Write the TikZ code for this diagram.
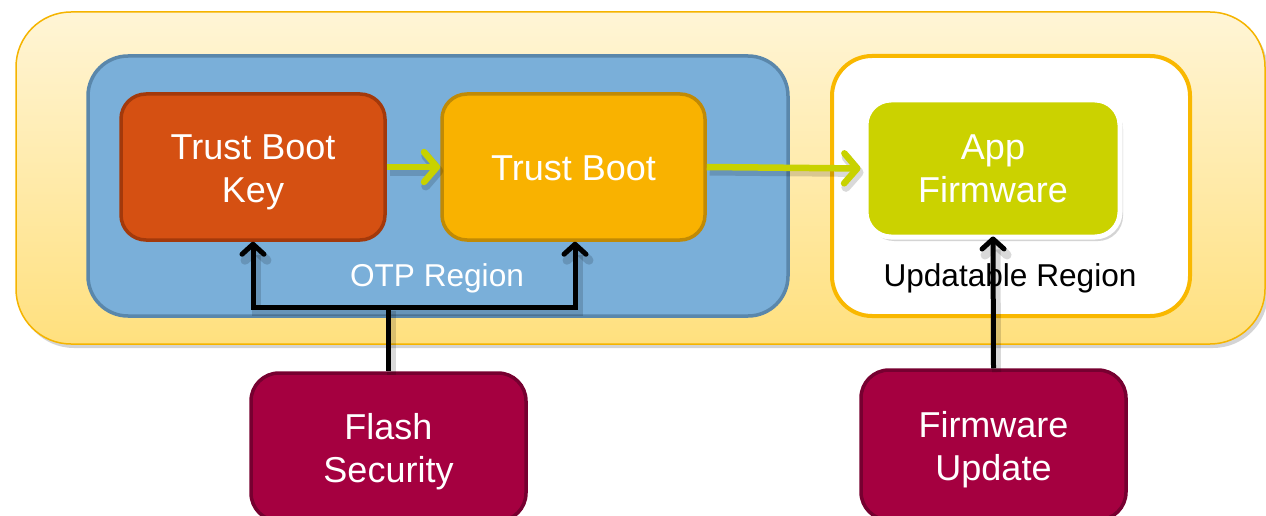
\documentclass[tikz,border=0pt]{standalone}
\usepackage{fontspec}
\setmainfont{Liberation Sans}
\usetikzlibrary{arrows.meta,shadows,positioning}

\definecolor{outerline}{HTML}{F5B400}
\definecolor{outertop}{HTML}{FFF5D6}
\definecolor{outerbot}{HTML}{FFE07E}
\definecolor{otpfill}{HTML}{7AAFD9}
\definecolor{otpline}{HTML}{5A87AB}
\definecolor{keyfill}{HTML}{D55012}
\definecolor{keyline}{HTML}{A3390B}
\definecolor{bootfill}{HTML}{F9B200}
\definecolor{bootline}{HTML}{C08A05}
\definecolor{updline}{HTML}{F9B800}
\definecolor{appfill}{HTML}{CBD200}
\definecolor{extfill}{HTML}{A50040}
\definecolor{extline}{HTML}{760030}
\definecolor{flowcol}{HTML}{C8D200}

\tikzset{
  box/.style={rounded corners=#1, inner sep=0pt, align=center},
  big/.style={font=\fontsize{36}{43}\selectfont, text=white, align=center, inner sep=0pt},
  small/.style={font=\fontsize{31.6}{38}\selectfont},
  softshadow/.style={drop shadow={shadow xshift=3pt, shadow yshift=-4pt, opacity=0.28, fill=black!60}},
  flow/.style={draw=flowcol, line width=6.5pt,
    -{Straight Barb[length=13pt, width=30pt, line cap=round, round]}},
  feed/.style={draw=black, line width=5pt,
    -{Straight Barb[length=10pt, width=22pt, line cap=round, round]}},
  connshadow/.style={preaction={draw=black, opacity=0.15, line width=9pt, transform canvas={shift={(3pt,-4pt)}}}}
}

\begin{document}
\begin{tikzpicture}[x=1pt, y=-1pt]
\useasboundingbox (0,0) rectangle (1266,516);

% outer board
\node[box=55pt, draw=outerline, line width=1.5pt, top color=outertop, bottom color=outerbot,
      minimum width=1249pt, minimum height=332pt, softshadow] (board) at (640.5,178) {};

% OTP region
\node[box=40pt, draw=otpline, fill=otpfill, line width=3.5pt,
      minimum width=700pt, minimum height=260pt] (otp) at (438,186) {};
\node[small, text=white] (otplabel) at (437,278) {OTP Region};

\node[box=25pt, draw=keyline, fill=keyfill, line width=3.5pt,
      minimum width=264pt, minimum height=146pt] (tbk) at (253,167) {};
\node[big] (tbktext) at (253,172) {Trust Boot\\Key};
\node[box=25pt, draw=bootline, fill=bootfill, line width=3.5pt,
      minimum width=263pt, minimum height=146pt] (tb) at (573.5,167) {};
\node[big] (tbtext) at (573.5,168.5) {Trust Boot};

% updatable region
\node[box=40pt, draw=updline, fill=white, line width=4pt,
      minimum width=358pt, minimum height=260pt] (upd) at (1011,186) {};
\node[small, text=black] (updlabel) at (1010,278) {Updatable Region};

\node[box=25pt, draw=white, fill=appfill, line width=5pt,
      minimum width=254pt, minimum height=137pt, softshadow] (app) at (993,168.5) {};
\node[big] (apptext) at (993,169) {App\\Firmware};

% external inputs
\node[box=28pt, draw=extline, fill=extfill, line width=3.5pt,
      minimum width=275pt, minimum height=148pt] (fs) at (388.5,447) {};
\node[big] (fstext) at (388.5,451.5) {Flash\\Security};
\node[box=28pt, draw=extline, fill=extfill, line width=3.5pt,
      minimum width=265pt, minimum height=150pt] (fu) at (993.5,445) {};
\node[big] (futext) at (993.5,449.5) {Firmware\\Update};

% boot chain
\draw[flow, connshadow] (tbk.east) -- (tb.west);
\draw[flow, connshadow] (tb.east) -- ([xshift=-3pt]app.west);

% programming paths
\coordinate (fork) at (388.5,307);
\draw[draw=black, line width=5pt, connshadow] (fs.north) -- (fork);
\draw[feed, connshadow] (fork) -| (tbk.south);
\draw[feed, connshadow] (fork) -| ([xshift=1.5pt]tb.south);
\draw[feed, connshadow] (fu.north) -- ([yshift=3pt]app.south);
\end{tikzpicture}
\end{document}
